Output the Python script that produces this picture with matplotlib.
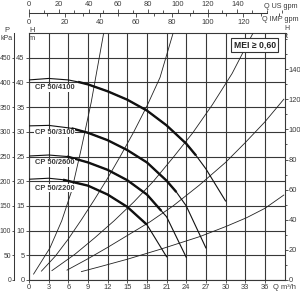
import matplotlib
matplotlib.use("Agg")
import matplotlib.pyplot as plt
from matplotlib.ticker import MultipleLocator

FAM = ['Liberation Sans Narrow', 'Liberation Sans', 'DejaVu Sans']
plt.rcParams['font.family'] = FAM

# ---------------- data ----------------
q_ticks = [0, 3, 6, 9, 12, 15, 18, 21, 24, 27, 30, 33, 36]
h_ticks = [0, 5, 10, 15, 20, 25, 30, 35, 40, 45]
kpa_ticks = [0, 50, 100, 150, 200, 250, 300, 350, 400, 450]
ft_ticks = [0, 20, 40, 60, 80, 100, 120, 140]
us_ticks = [0, 20, 40, 60, 80, 100, 120, 140]
imp_ticks = [0, 20, 40, 60, 80, 100, 120]

pump_names = ["CP 50/4100", "CP 50/3100", "CP 50/2600", "CP 50/2200"]
q_4100 = [0, 3, 6, 7.5, 9, 12, 15, 18, 21, 24, 25.5, 27, 30]
h_4100 = [40.5, 40.8, 40.5, 40.1, 39.6, 38.2, 36.5, 34.3, 31.3, 27.6, 25.2, 22.5, 16.0]
q_3100 = [0, 3, 6, 6.5, 9, 12, 15, 18, 21, 22.5, 24, 27]
h_3100 = [31.2, 31.3, 30.8, 30.7, 29.8, 28.3, 26.3, 23.8, 20.1, 17.8, 15.0, 6.5]
q_2600 = [0, 3, 5.8, 9, 12, 15, 18, 20.2, 21, 24]
h_2600 = [25.1, 25.3, 25.0, 23.8, 22.3, 20.2, 17.3, 14.0, 12.8, 4.6]
q_2200 = [0, 3, 5.2, 9, 12, 15, 18, 21]
h_2200 = [20.4, 20.6, 20.3, 19.1, 17.3, 14.8, 11.2, 4.7]
thick_4100 = (3, 10)
thick_3100 = (3, 9)
thick_2600 = (2, 7)
thick_2200 = (2, 6)
label_h = [38.9, 29.8, 23.7, 18.6]

# thin system curves
q_s1 = [0.7, 3.2, 5.0, 6.5, 8.0, 9.5, 11.4]
h_s1 = [1.2, 6.5, 12.0, 18.0, 26.7, 36.0, 50.0]
q_s2 = [1.9, 4, 6, 8, 10, 12, 14, 16, 18, 20, 22.0]
h_s2 = [1.8, 4.8, 8.3, 12.2, 16.3, 20.6, 25.2, 30.0, 35.2, 41.0, 50.0]
q_s3 = [3.5, 7, 10, 13, 16, 19, 22, 25, 28, 31, 34.2]
h_s3 = [1.9, 5.2, 8.5, 12.0, 15.8, 20.0, 24.8, 29.8, 35.5, 41.8, 50.0]
q_s4 = [5.8, 9, 12, 15, 18.5, 22, 26, 30, 33, 36, 38.9]
h_s4 = [2.0, 4.3, 6.6, 9.0, 11.8, 15.0, 19.2, 23.8, 27.8, 32.0, 36.6]
q_s5 = [8.0, 10.85, 15, 20, 26.1, 30, 33.2, 36, 38.9]
h_s5 = [1.7, 2.7, 4.2, 6.2, 8.8, 10.8, 12.6, 14.5, 17.2]

W, H = 300, 293
fig = plt.figure(figsize=(W / 100, H / 100), dpi=100)
x0, x1 = 29, 284.5
y0, y1 = 280, 33
ax = fig.add_axes([x0 / W, 1 - y0 / H, (x1 - x0) / W, (y0 - y1) / H])
ax.set_xlim(0, 39)
ax.set_ylim(0, 50)

GRID = '#383838'
TXT = '#3a3a3a'
FS = 5.4
ax.set_xticks(q_ticks)
ax.set_yticks(h_ticks)
ax.set_xticklabels([str(v) for v in q_ticks])
ax.set_yticklabels([str(v) for v in h_ticks])
ax.grid(True, color=GRID, lw=0.8)
for s in ax.spines.values():
    s.set_color(GRID)
    s.set_linewidth(0.8)
ax.tick_params(axis='both', length=2, width=0.6, color=GRID, labelsize=FS,
               labelcolor=TXT, pad=1.2)

# system curves
for qs, hs in [(q_s1, h_s1), (q_s2, h_s2), (q_s3, h_s3), (q_s4, h_s4), (q_s5, h_s5)]:
    ax.plot(qs, hs, color='#222222', lw=0.6, clip_on=True, zorder=3)

# pump curves
curves = [(q_4100, h_4100, thick_4100), (q_3100, h_3100, thick_3100),
          (q_2600, h_2600, thick_2600), (q_2200, h_2200, thick_2200)]
for (qs, hs, (i0, i1)) in curves:
    ax.plot(qs, hs, color='#111111', lw=0.8, zorder=4)
    ax.plot(qs[i0:i1 + 1], hs[i0:i1 + 1], color='#111111', lw=1.7,
            solid_capstyle='butt', solid_joinstyle='round', zorder=5)
for name, lh in zip(pump_names, label_h):
    ax.text(0.9, lh, name, fontsize=5.4, fontweight='bold', color=TXT,
            va='center', ha='left', zorder=6,
            bbox=dict(boxstyle='square,pad=0.1', fc='white', ec='none'))

ax.text(39.0, -0.9, "Q m\u00b3/h", fontsize=FS, color=TXT, ha='center', va='top')

# MEI box
ax.text(0.883, 0.953, "MEI \u2265 0,60", transform=ax.transAxes, fontsize=6.2,
        fontweight='bold', color='#222222', ha='center', va='center', zorder=7,
        bbox=dict(boxstyle='square,pad=0.3', fc='white', ec='#333333', lw=0.8))

# right axis in ft
axr = ax.twinx()
axr.set_ylim(0, 50 / 0.3048)
axr.set_yticks(ft_ticks)
axr.yaxis.set_minor_locator(MultipleLocator(10))
axr.tick_params(axis='y', which='major', length=2, width=0.6, color=GRID,
                labelsize=FS, labelcolor=TXT, pad=0.8)
axr.tick_params(axis='y', which='minor', length=1.5, width=0.6, color=GRID)
for s in axr.spines.values():
    s.set_visible(False)

# outer left axis kPa
axp = ax.twinx()
axp.set_ylim(0, 500)
axp.yaxis.set_ticks_position('left')
axp.yaxis.set_label_position('left')
for k, s in axp.spines.items():
    s.set_visible(k == 'left')
axp.spines['left'].set_position(('outward', 11.0))
axp.spines['left'].set_color(GRID)
axp.spines['left'].set_linewidth(0.75)
axp.set_yticks(kpa_ticks)
axp.tick_params(axis='y', length=1.5, width=0.6, color=GRID, labelsize=4.9,
                labelcolor=TXT, pad=0.4)

# axis titles
fig.text(7 / W, 1 - 30 / H, "P", fontsize=FS, color=TXT, ha='center', va='center')
fig.text(7 / W, 1 - 39 / H, "kPa", fontsize=5, color=TXT, ha='center', va='center')
fig.text(32 / W, 1 - 30 / H, "H", fontsize=FS, color=TXT, ha='center', va='center')
fig.text(32 / W, 1 - 39 / H, "m", fontsize=FS, color=TXT, ha='center', va='center')
fig.text(287 / W, 1 - 29 / H, "H", fontsize=5, color=TXT, ha='center', va='center')
fig.text(287 / W, 1 - 37 / H, "ft", fontsize=5, color=TXT, ha='center', va='center')

# top flow scales
yl = 13.3
ax_us = fig.add_axes([x0 / W, 1 - yl / H, (x1 - x0) / W, 1e-5])
ax_us.set_xlim(0, 39 * 4.4029)
ax_us.set_yticks([])
for k, s in ax_us.spines.items():
    s.set_visible(k == 'bottom')
ax_us.spines['bottom'].set_bounds(0, 160)
ax_us.spines['bottom'].set_color(GRID)
ax_us.spines['bottom'].set_linewidth(0.75)
ax_us.set_xticks(us_ticks)
ax_us.xaxis.set_minor_locator(MultipleLocator(10))
ax_us.tick_params(axis='x', which='both', top=True, bottom=False, labeltop=True,
                  labelbottom=False, direction='out', color=GRID, width=0.6)
ax_us.tick_params(axis='x', which='major', length=3, labelsize=FS, labelcolor=TXT, pad=1.0)
ax_us.tick_params(axis='x', which='minor', length=2)
ax_us.patch.set_visible(False)

ax_imp = fig.add_axes([x0 / W, 1 - yl / H, (x1 - x0) / W, 1e-5])
ax_imp.set_xlim(0, 39 * 3.6662)
ax_imp.set_yticks([])
for s in ax_imp.spines.values():
    s.set_visible(False)
ax_imp.set_xticks(imp_ticks)
ax_imp.xaxis.set_minor_locator(MultipleLocator(10))
ax_imp.set_xlim(0, 39 * 3.6662)
ax_imp.tick_params(axis='x', which='both', top=False, bottom=True, labeltop=False,
                   labelbottom=True, direction='out', color=GRID, width=0.6)
ax_imp.tick_params(axis='x', which='major', length=3, labelsize=FS, labelcolor=TXT, pad=0.8)
ax_imp.tick_params(axis='x', which='minor', length=2)
ax_imp.patch.set_visible(False)

fig.text(281 / W, 1 - 6 / H, "Q US gpm", fontsize=5.2, color=TXT, ha='center', va='center')
fig.text(280 / W, 1 - 19.5 / H, "Q IMP gpm", fontsize=5.2, color=TXT, ha='center', va='center')

fig.savefig("out.png", dpi=100)
